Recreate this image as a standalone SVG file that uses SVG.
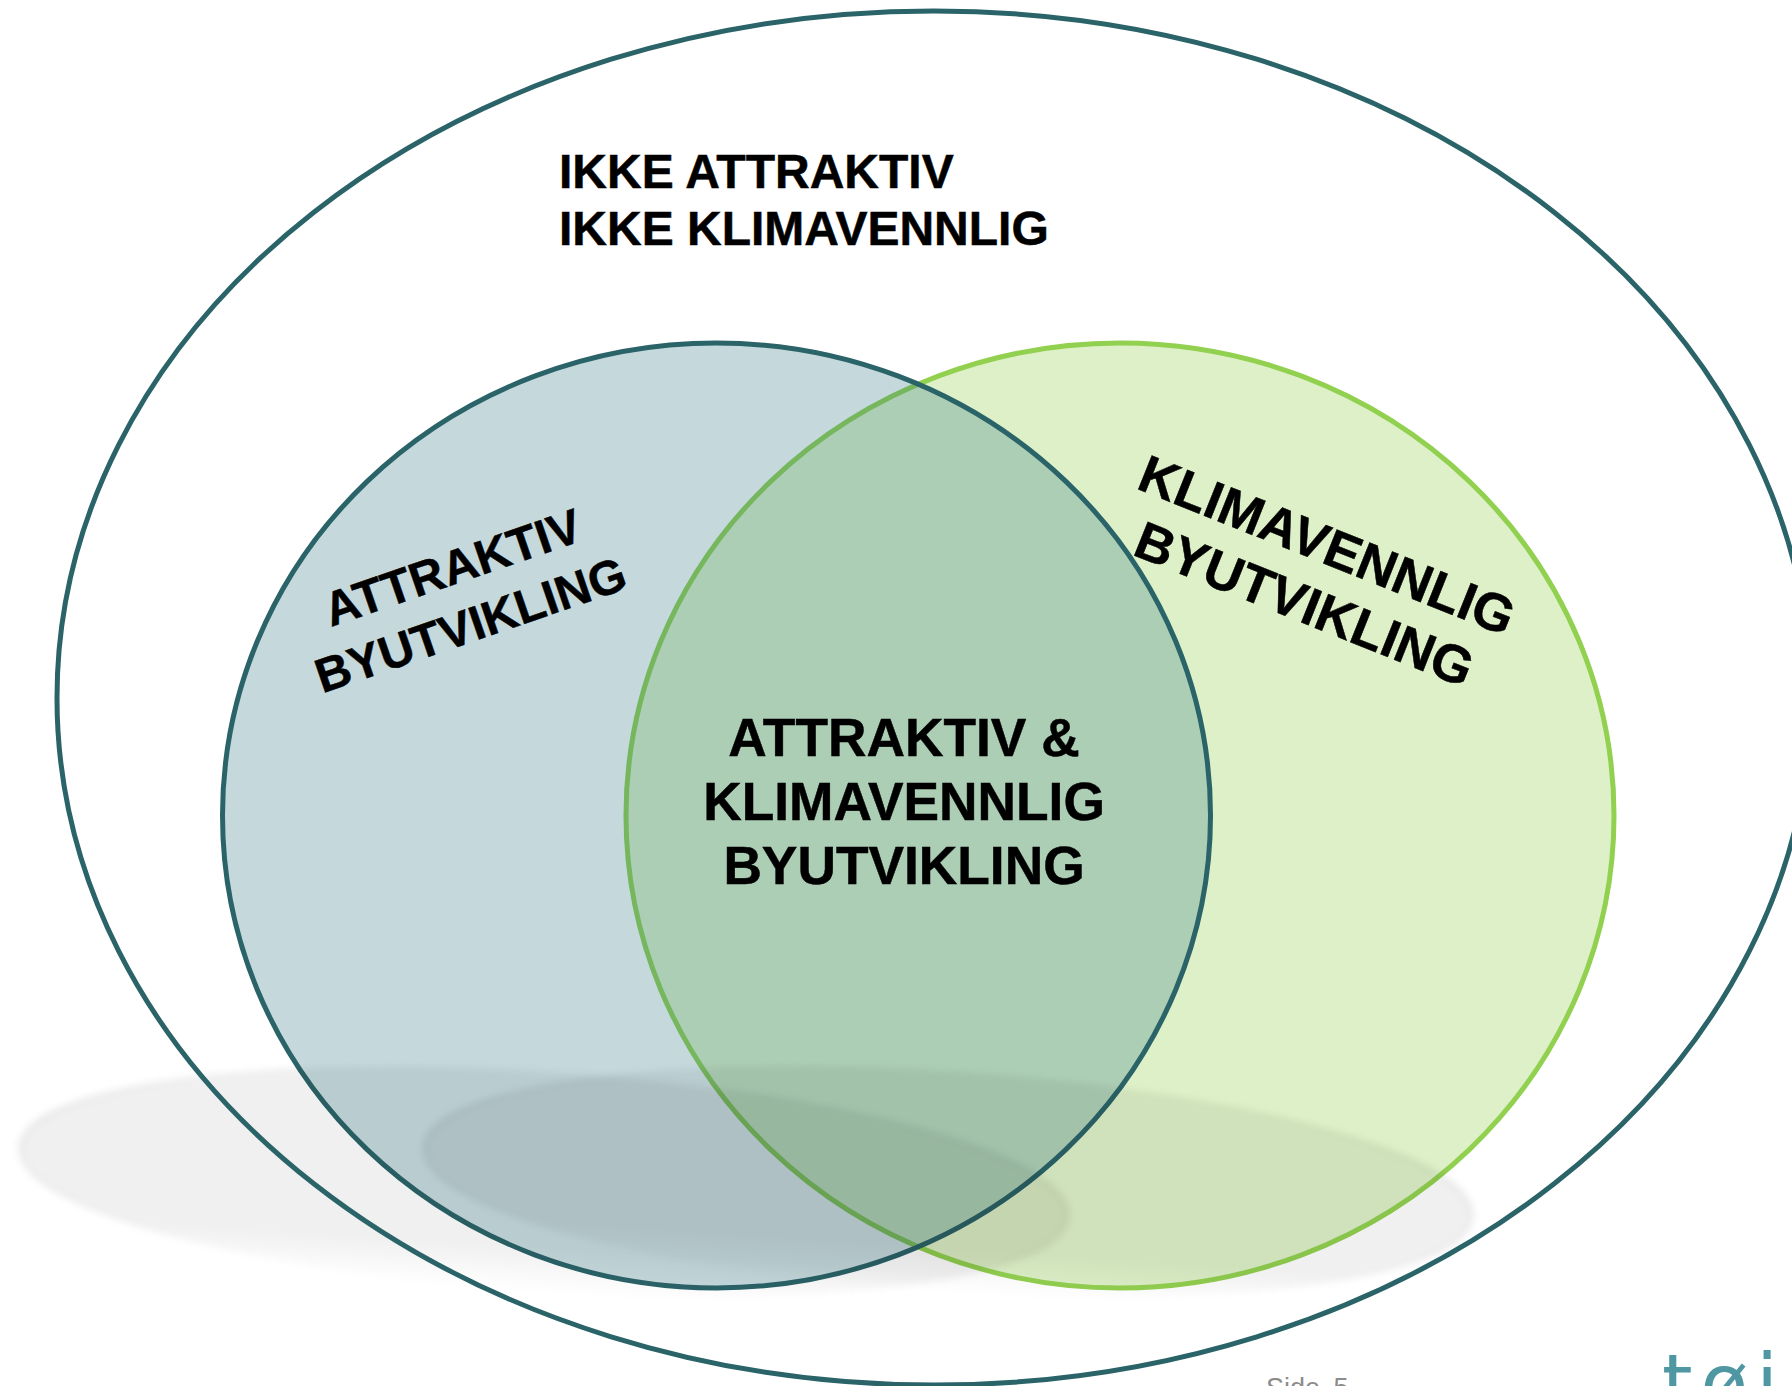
<svg xmlns="http://www.w3.org/2000/svg" width="1792" height="1386" viewBox="0 0 1792 1386">
<style>
.l{font-family:"Liberation Sans",Arial,sans-serif;font-weight:700;fill:#000;stroke:#000;stroke-width:.5}
.o{font-size:48px}.r1{font-size:48px}.r2{font-size:53px}.c{font-size:53.3px;text-anchor:middle}
.sh{fill:url(#sg);stroke:url(#sr);stroke-width:6;filter:url(#b)}
</style>
<defs>
<linearGradient id="sg" x1="0" y1="0" x2="0" y2="1"><stop offset="0" stop-color="#000" stop-opacity=".06"/><stop offset=".8" stop-color="#000" stop-opacity=".06"/><stop offset="1" stop-color="#000" stop-opacity="0"/></linearGradient>
<linearGradient id="sr" x1="0" y1="0" x2="0" y2="1"><stop offset="0" stop-color="#000" stop-opacity=".005"/><stop offset=".35" stop-color="#000" stop-opacity=".05"/><stop offset=".65" stop-color="#000" stop-opacity=".035"/><stop offset=".9" stop-color="#000" stop-opacity="0"/></linearGradient>
<filter id="b" x="-5%" y="-20%" width="110%" height="140%"><feGaussianBlur stdDeviation="3.5"/></filter>
</defs>
<rect width="1792" height="1386" fill="#fff"/>
<g id="klimavennlig"><ellipse cx="1120" cy="815.5" rx="494" ry="472.5" fill="#ddf0c7" stroke="#92d050" stroke-width="5"/></g>
<g id="attraktiv"><ellipse cx="716.5" cy="815.5" rx="494" ry="472.5" fill="#307786" fill-opacity=".28" stroke="#2a6368" stroke-width="5"/></g>
<g id="shadows">
<ellipse class="sh" cx="544" cy="1182" rx="525" ry="110" transform="rotate(3.8 544 1182)"/>
<ellipse class="sh" cx="948" cy="1182" rx="525" ry="110" transform="rotate(3.8 948 1182)"/>
</g>
<g id="ikke"><ellipse cx="934" cy="698" rx="877" ry="687" fill="none" stroke="#2a6368" stroke-width="5"/>
<text class="l o" x="559" y="188">IKKE ATTRAKTIV</text>
<text class="l o" x="559" y="245">IKKE KLIMAVENNLIG</text></g>
<g id="label-attraktiv" transform="translate(331 627) rotate(-19)">
<text class="l r1" x="0" y="0">ATTRAKTIV</text>
<text class="l r1" x="-30" y="60">BYUTVIKLING</text></g>
<g id="label-klima" transform="translate(1135 488) rotate(21.8)">
<text class="l r2" x="0" y="0">KLIMAVENNLIG</text>
<text class="l r2" x="21" y="63">BYUTVIKLING</text></g>
<g id="label-begge">
<text class="l c" x="904" y="756">ATTRAKTIV &amp;</text>
<text class="l c" x="904" y="820">KLIMAVENNLIG</text>
<text class="l c" x="904" y="884">BYUTVIKLING</text></g>
<g id="footer">
<text x="1266" y="1397" font-family="'Liberation Sans',Arial,sans-serif" font-size="27" word-spacing="6" fill="#8c8c8c">Side 5</text>
<text x="1662" y="1410" font-family="'DejaVu Sans',sans-serif" font-size="78" textLength="116" lengthAdjust="spacing" fill="#4f97a3">tøi</text>
</g>
</svg>
